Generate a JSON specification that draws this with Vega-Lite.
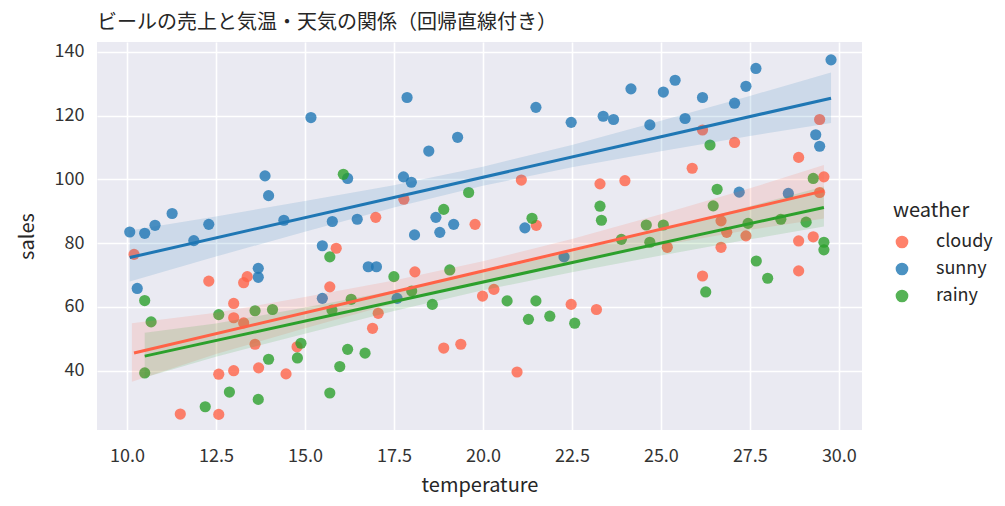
{
  "$schema": "https://vega.github.io/schema/vega-lite/v6.json",
  "autosize": {"type": "none"},
  "padding": {"left": 97, "top": 42, "right": 143, "bottom": 76},
  "width": 765,
  "height": 388,
  "background": "white",
  "title": {"text": "ビールの売上と気温・天気の関係（回帰直線付き）", "anchor": "start", "frame": "group", "offset": 9, "fontSize": 20, "fontWeight": "normal", "font": "Noto Sans CJK JP", "color": "#262626"},
  "config": {
    "view": {"fill": "#EAEAF2", "stroke": null},
    "font": "Noto Sans CJK JP",
    "axis": {"grid": true, "gridColor": "white", "gridWidth": 1.6, "ticks": false, "domain": false, "labelFontSize": 18, "labelColor": "#333333", "titleFontSize": 20, "titleFontWeight": "normal", "titleColor": "#262626", "labelFont": "Noto Sans CJK JP", "titleFont": "Noto Sans CJK JP"},
    "legend": {"labelFont": "Noto Sans CJK JP", "titleFont": "Noto Sans CJK JP"}
  },
  "datasets": {
    "points": [
      {"weather": "sunny", "temperature": 10.08, "sales": 83.5},
      {"weather": "sunny", "temperature": 10.5, "sales": 83.1},
      {"weather": "sunny", "temperature": 10.79, "sales": 85.6},
      {"weather": "sunny", "temperature": 11.27, "sales": 89.3},
      {"weather": "sunny", "temperature": 11.88, "sales": 80.8},
      {"weather": "sunny", "temperature": 12.3, "sales": 85.9},
      {"weather": "sunny", "temperature": 10.29, "sales": 65.8},
      {"weather": "sunny", "temperature": 13.69, "sales": 72.1},
      {"weather": "sunny", "temperature": 13.69, "sales": 69.3},
      {"weather": "sunny", "temperature": 13.88, "sales": 101.1},
      {"weather": "sunny", "temperature": 13.98, "sales": 94.9},
      {"weather": "sunny", "temperature": 14.41, "sales": 87.2},
      {"weather": "sunny", "temperature": 15.17, "sales": 119.4},
      {"weather": "sunny", "temperature": 15.49, "sales": 79.2},
      {"weather": "sunny", "temperature": 15.49, "sales": 62.7},
      {"weather": "sunny", "temperature": 15.77, "sales": 86.8},
      {"weather": "sunny", "temperature": 16.2, "sales": 100.3},
      {"weather": "sunny", "temperature": 16.47, "sales": 87.5},
      {"weather": "sunny", "temperature": 16.78, "sales": 72.6},
      {"weather": "sunny", "temperature": 17.01, "sales": 72.6},
      {"weather": "sunny", "temperature": 17.59, "sales": 62.7},
      {"weather": "sunny", "temperature": 17.77, "sales": 100.8},
      {"weather": "sunny", "temperature": 17.87, "sales": 125.7},
      {"weather": "sunny", "temperature": 17.99, "sales": 99.1},
      {"weather": "sunny", "temperature": 18.08, "sales": 82.6},
      {"weather": "sunny", "temperature": 18.48, "sales": 108.9},
      {"weather": "sunny", "temperature": 18.68, "sales": 88.1},
      {"weather": "sunny", "temperature": 18.79, "sales": 83.4},
      {"weather": "sunny", "temperature": 19.18, "sales": 85.9},
      {"weather": "sunny", "temperature": 19.29, "sales": 113.2},
      {"weather": "sunny", "temperature": 21.18, "sales": 84.8},
      {"weather": "sunny", "temperature": 21.49, "sales": 122.6},
      {"weather": "sunny", "temperature": 22.28, "sales": 75.7},
      {"weather": "sunny", "temperature": 22.48, "sales": 117.9},
      {"weather": "sunny", "temperature": 23.38, "sales": 119.8},
      {"weather": "sunny", "temperature": 23.67, "sales": 118.8},
      {"weather": "sunny", "temperature": 24.16, "sales": 128.4},
      {"weather": "sunny", "temperature": 24.69, "sales": 117.1},
      {"weather": "sunny", "temperature": 25.07, "sales": 127.4},
      {"weather": "sunny", "temperature": 25.4, "sales": 131.1},
      {"weather": "sunny", "temperature": 25.68, "sales": 119.1},
      {"weather": "sunny", "temperature": 26.17, "sales": 125.7},
      {"weather": "sunny", "temperature": 27.07, "sales": 123.9},
      {"weather": "sunny", "temperature": 27.2, "sales": 96.0},
      {"weather": "sunny", "temperature": 27.39, "sales": 129.2},
      {"weather": "sunny", "temperature": 27.67, "sales": 134.8},
      {"weather": "sunny", "temperature": 28.58, "sales": 95.6},
      {"weather": "sunny", "temperature": 29.35, "sales": 114.0},
      {"weather": "sunny", "temperature": 29.46, "sales": 110.4},
      {"weather": "sunny", "temperature": 29.78, "sales": 137.5},
      {"weather": "cloudy", "temperature": 10.2, "sales": 76.5},
      {"weather": "cloudy", "temperature": 11.5, "sales": 26.4},
      {"weather": "cloudy", "temperature": 12.3, "sales": 68.1},
      {"weather": "cloudy", "temperature": 12.58, "sales": 38.9},
      {"weather": "cloudy", "temperature": 12.58, "sales": 26.3},
      {"weather": "cloudy", "temperature": 13.0, "sales": 61.1},
      {"weather": "cloudy", "temperature": 13.0, "sales": 56.6},
      {"weather": "cloudy", "temperature": 13.0, "sales": 40.0},
      {"weather": "cloudy", "temperature": 13.28, "sales": 67.6},
      {"weather": "cloudy", "temperature": 13.38, "sales": 69.5},
      {"weather": "cloudy", "temperature": 13.28, "sales": 55.0},
      {"weather": "cloudy", "temperature": 13.6, "sales": 48.3},
      {"weather": "cloudy", "temperature": 13.7, "sales": 40.9},
      {"weather": "cloudy", "temperature": 14.47, "sales": 39.0},
      {"weather": "cloudy", "temperature": 14.78, "sales": 47.5},
      {"weather": "cloudy", "temperature": 15.7, "sales": 66.3},
      {"weather": "cloudy", "temperature": 15.88, "sales": 78.4},
      {"weather": "cloudy", "temperature": 16.9, "sales": 53.3},
      {"weather": "cloudy", "temperature": 17.06, "sales": 58.0},
      {"weather": "cloudy", "temperature": 16.99, "sales": 88.1},
      {"weather": "cloudy", "temperature": 17.78, "sales": 93.8},
      {"weather": "cloudy", "temperature": 18.09, "sales": 71.0},
      {"weather": "cloudy", "temperature": 18.9, "sales": 47.1},
      {"weather": "cloudy", "temperature": 19.38, "sales": 48.3},
      {"weather": "cloudy", "temperature": 19.78, "sales": 85.9},
      {"weather": "cloudy", "temperature": 19.99, "sales": 63.4},
      {"weather": "cloudy", "temperature": 20.31, "sales": 65.5},
      {"weather": "cloudy", "temperature": 20.96, "sales": 39.6},
      {"weather": "cloudy", "temperature": 21.08, "sales": 99.8},
      {"weather": "cloudy", "temperature": 21.5, "sales": 85.6},
      {"weather": "cloudy", "temperature": 22.48, "sales": 60.8},
      {"weather": "cloudy", "temperature": 23.19, "sales": 59.2},
      {"weather": "cloudy", "temperature": 23.29, "sales": 98.6},
      {"weather": "cloudy", "temperature": 23.99, "sales": 99.6},
      {"weather": "cloudy", "temperature": 25.18, "sales": 78.7},
      {"weather": "cloudy", "temperature": 25.88, "sales": 103.5},
      {"weather": "cloudy", "temperature": 26.17, "sales": 115.5},
      {"weather": "cloudy", "temperature": 26.17, "sales": 69.7},
      {"weather": "cloudy", "temperature": 26.69, "sales": 87.0},
      {"weather": "cloudy", "temperature": 26.69, "sales": 78.7},
      {"weather": "cloudy", "temperature": 26.85, "sales": 83.4},
      {"weather": "cloudy", "temperature": 27.07, "sales": 111.6},
      {"weather": "cloudy", "temperature": 27.39, "sales": 82.3},
      {"weather": "cloudy", "temperature": 28.87, "sales": 106.9},
      {"weather": "cloudy", "temperature": 28.87, "sales": 80.7},
      {"weather": "cloudy", "temperature": 28.87, "sales": 71.3},
      {"weather": "cloudy", "temperature": 29.28, "sales": 82.0},
      {"weather": "cloudy", "temperature": 29.46, "sales": 118.8},
      {"weather": "cloudy", "temperature": 29.46, "sales": 95.9},
      {"weather": "cloudy", "temperature": 29.58, "sales": 100.8},
      {"weather": "rainy", "temperature": 10.5, "sales": 62.0},
      {"weather": "rainy", "temperature": 10.68, "sales": 55.3},
      {"weather": "rainy", "temperature": 10.5, "sales": 39.3},
      {"weather": "rainy", "temperature": 12.2, "sales": 28.7},
      {"weather": "rainy", "temperature": 12.58, "sales": 57.6},
      {"weather": "rainy", "temperature": 12.88, "sales": 33.3},
      {"weather": "rainy", "temperature": 13.6, "sales": 58.8},
      {"weather": "rainy", "temperature": 13.69, "sales": 31.0},
      {"weather": "rainy", "temperature": 13.98, "sales": 43.6},
      {"weather": "rainy", "temperature": 14.09, "sales": 59.2},
      {"weather": "rainy", "temperature": 14.79, "sales": 44.0},
      {"weather": "rainy", "temperature": 14.89, "sales": 48.6},
      {"weather": "rainy", "temperature": 15.7, "sales": 75.7},
      {"weather": "rainy", "temperature": 15.7, "sales": 33.0},
      {"weather": "rainy", "temperature": 15.76, "sales": 59.0},
      {"weather": "rainy", "temperature": 15.98, "sales": 41.3},
      {"weather": "rainy", "temperature": 16.08, "sales": 101.6},
      {"weather": "rainy", "temperature": 16.2, "sales": 46.7},
      {"weather": "rainy", "temperature": 16.3, "sales": 62.4},
      {"weather": "rainy", "temperature": 16.69, "sales": 45.5},
      {"weather": "rainy", "temperature": 17.5, "sales": 69.5},
      {"weather": "rainy", "temperature": 18.0, "sales": 65.0},
      {"weather": "rainy", "temperature": 18.58, "sales": 60.8},
      {"weather": "rainy", "temperature": 18.9, "sales": 90.6},
      {"weather": "rainy", "temperature": 19.07, "sales": 71.6},
      {"weather": "rainy", "temperature": 19.6, "sales": 95.9},
      {"weather": "rainy", "temperature": 20.68, "sales": 61.9},
      {"weather": "rainy", "temperature": 21.28, "sales": 56.1},
      {"weather": "rainy", "temperature": 21.38, "sales": 87.8},
      {"weather": "rainy", "temperature": 21.49, "sales": 61.9},
      {"weather": "rainy", "temperature": 21.88, "sales": 57.1},
      {"weather": "rainy", "temperature": 22.58, "sales": 54.9},
      {"weather": "rainy", "temperature": 23.29, "sales": 91.6},
      {"weather": "rainy", "temperature": 23.33, "sales": 87.2},
      {"weather": "rainy", "temperature": 23.89, "sales": 81.2},
      {"weather": "rainy", "temperature": 24.59, "sales": 85.7},
      {"weather": "rainy", "temperature": 24.69, "sales": 80.3},
      {"weather": "rainy", "temperature": 25.07, "sales": 85.7},
      {"weather": "rainy", "temperature": 26.26, "sales": 64.7},
      {"weather": "rainy", "temperature": 26.38, "sales": 110.8},
      {"weather": "rainy", "temperature": 26.47, "sales": 91.7},
      {"weather": "rainy", "temperature": 26.58, "sales": 96.9},
      {"weather": "rainy", "temperature": 27.45, "sales": 86.2},
      {"weather": "rainy", "temperature": 27.68, "sales": 74.4},
      {"weather": "rainy", "temperature": 28.0, "sales": 69.0},
      {"weather": "rainy", "temperature": 28.37, "sales": 87.5},
      {"weather": "rainy", "temperature": 29.08, "sales": 86.6},
      {"weather": "rainy", "temperature": 29.28, "sales": 100.3},
      {"weather": "rainy", "temperature": 29.58, "sales": 80.3},
      {"weather": "rainy", "temperature": 29.58, "sales": 77.9}
    ],
    "bands": [
      {"weather": "cloudy", "temperature": 10.14, "lo": 36.5, "hi": 54.9},
      {"weather": "cloudy", "temperature": 12.5, "lo": 45.2, "hi": 58.2},
      {"weather": "cloudy", "temperature": 15.0, "lo": 53.3, "hi": 63.1},
      {"weather": "cloudy", "temperature": 17.5, "lo": 61.1, "hi": 68.3},
      {"weather": "cloudy", "temperature": 20.0, "lo": 68.1, "hi": 74.3},
      {"weather": "cloudy", "temperature": 22.5, "lo": 74.1, "hi": 81.3},
      {"weather": "cloudy", "temperature": 25.0, "lo": 79.3, "hi": 89.1},
      {"weather": "cloudy", "temperature": 27.5, "lo": 84.2, "hi": 97.2},
      {"weather": "cloudy", "temperature": 29.58, "lo": 87.7, "hi": 104.5},
      {"weather": "sunny", "temperature": 10.08, "lo": 68.0, "hi": 84.0},
      {"weather": "sunny", "temperature": 12.5, "lo": 75.8, "hi": 88.4},
      {"weather": "sunny", "temperature": 15.0, "lo": 83.6, "hi": 93.2},
      {"weather": "sunny", "temperature": 17.5, "lo": 91.2, "hi": 98.2},
      {"weather": "sunny", "temperature": 20.0, "lo": 98.0, "hi": 104.0},
      {"weather": "sunny", "temperature": 22.5, "lo": 103.8, "hi": 110.8},
      {"weather": "sunny", "temperature": 25.0, "lo": 108.8, "hi": 118.4},
      {"weather": "sunny", "temperature": 27.5, "lo": 113.6, "hi": 126.2},
      {"weather": "sunny", "temperature": 29.78, "lo": 117.7, "hi": 133.5},
      {"weather": "rainy", "temperature": 10.5, "lo": 37.9, "hi": 51.9},
      {"weather": "rainy", "temperature": 12.5, "lo": 44.4, "hi": 54.8},
      {"weather": "rainy", "temperature": 15.0, "lo": 51.6, "hi": 59.8},
      {"weather": "rainy", "temperature": 17.5, "lo": 58.7, "hi": 65.1},
      {"weather": "rainy", "temperature": 20.0, "lo": 65.2, "hi": 70.8},
      {"weather": "rainy", "temperature": 22.5, "lo": 70.9, "hi": 77.3},
      {"weather": "rainy", "temperature": 25.0, "lo": 76.1, "hi": 84.3},
      {"weather": "rainy", "temperature": 27.5, "lo": 81.2, "hi": 91.6},
      {"weather": "rainy", "temperature": 29.58, "lo": 85.2, "hi": 97.8}
    ]
  },
  "layer": [
    {
      "data": {"name": "points"},
      "mark": {"type": "point", "filled": true, "size": 125, "opacity": 0.8, "shape": "circle"},
      "encoding": {
        "x": {"field": "temperature", "type": "quantitative", "scale": {"domain": [9.16, 30.65], "nice": false, "zero": false}, "axis": {"values": [10, 12.5, 15, 17.5, 20, 22.5, 25, 27.5, 30], "format": ".1f", "labelPadding": 17, "titlePadding": 10, "title": "temperature"}},
        "y": {"field": "sales", "type": "quantitative", "scale": {"domain": [21.4, 143.1], "nice": false, "zero": false}, "axis": {"values": [40, 60, 80, 100, 120, 140], "labelPadding": 13, "titlePadding": 17, "title": "sales"}},
        "color": {"field": "weather", "type": "nominal", "scale": {"domain": ["cloudy", "sunny", "rainy"], "range": ["#ff6347", "#1f77b4", "#2ca02c"]}, "legend": {"orient": "none", "legendX": 796, "legendY": 159, "title": "weather", "titleFontSize": 20, "titleFontWeight": "normal", "titleColor": "#262626", "labelFontSize": 18, "labelColor": "#262626", "symbolType": "circle", "symbolSize": 125, "symbolOpacity": 0.8, "rowPadding": 9, "titlePadding": 12, "labelOffset": 25}}
      }
    },
    {
      "data": {"name": "bands"},
      "mark": {"type": "area", "opacity": 0.15},
      "encoding": {
        "x": {"field": "temperature", "type": "quantitative"},
        "y": {"field": "lo", "type": "quantitative"},
        "y2": {"field": "hi"},
        "color": {"field": "weather", "type": "nominal", "legend": null}
      }
    },
    {
      "data": {"name": "points"},
      "transform": [{"regression": "sales", "on": "temperature", "groupby": ["weather"]}],
      "mark": {"type": "line", "strokeWidth": 3},
      "encoding": {
        "x": {"field": "temperature", "type": "quantitative"},
        "y": {"field": "sales", "type": "quantitative"},
        "color": {"field": "weather", "type": "nominal", "legend": null}
      }
    }
  ]
}
